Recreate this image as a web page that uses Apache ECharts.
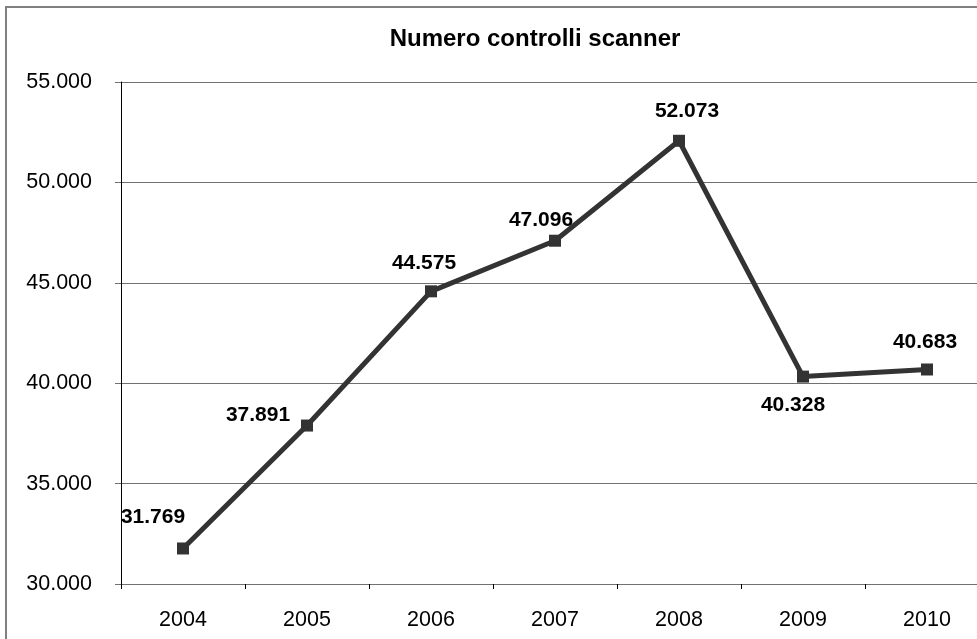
<!DOCTYPE html>
<html>
<head>
<meta charset="utf-8">
<style>
  html, body { margin: 0; padding: 0; background: #fff; overflow: hidden; width: 977px; height: 639px; }
  #chart { width: 1000px; height: 639px; }
</style>
<script src="https://cdn.jsdelivr.net/npm/echarts@6/dist/echarts.min.js"></script>
</head>
<body>
<div id="chart"></div>
<script>
// Annual number of scanner checks
const years = ['2004', '2005', '2006', '2007', '2008', '2009', '2010'];
const checks = [31769, 37891, 44575, 47096, 52073, 40328, 40683];
// Where each value label sits relative to its point (x, y in px)
const labelOffsets = [[-30, -31], [-49, -10], [-7, -28], [-14, -21], [8, -30], [-10, 29], [-2, -27]];

const fmt = v => {
  const s = Math.round(v).toString();
  return s.replace(/\B(?=(\d{3})+(?!\d))/g, '.');
};

const FONT = 'Liberation Sans, Arial, sans-serif';
const chart = echarts.init(document.getElementById('chart'), null, { renderer: 'canvas' });

chart.setOption({
  backgroundColor: '#fff',
  animation: false,
  title: {
    text: 'Numero controlli scanner',
    left: 530,
    top: 22,
    textAlign: 'center',
    textStyle: { fontFamily: FONT, fontSize: 24, fontWeight: 'bold', color: '#000' }
  },
  graphic: [{
    type: 'rect',
    shape: { x: 6, y: 7, width: 1200, height: 1000 },
    style: { fill: 'none', stroke: '#808080', lineWidth: 2 },
    silent: true,
    z: -1
  }],
  grid: { left: 121, top: 82, right: 11, bottom: 55, containLabel: false },
  xAxis: {
    type: 'category',
    data: years,
    boundaryGap: true,
    axisLine: { lineStyle: { color: '#707070', width: 1 } },
    axisTick: { show: true, length: 5, lineStyle: { color: '#000' } },
    axisLabel: { margin: 25, fontFamily: FONT, fontSize: 21.5, color: '#000' },
    splitLine: { show: false }
  },
  yAxis: {
    type: 'value',
    min: 30000,
    max: 55000,
    interval: 5000,
    axisLine: { show: true, lineStyle: { color: '#000', width: 1 } },
    axisTick: { show: true, length: 6, lineStyle: { color: '#707070' } },
    axisLabel: {
      margin: 29,
      formatter: fmt,
      fontFamily: FONT, fontSize: 21.5, color: '#000'
    },
    splitLine: { show: true, lineStyle: { color: '#707070', width: 1 } }
  },
  series: [{
    type: 'line',
    data: checks.map((v, i) => ({
      value: v,
      label: { offset: labelOffsets[i] }
    })),
    symbol: 'rect',
    symbolSize: 12,
    lineStyle: { color: '#333', width: 5 },
    itemStyle: { color: '#333' },
    label: {
      show: true,
      position: 'inside',
      formatter: p => fmt(p.value),
      fontFamily: FONT,
      fontSize: 21,
      fontWeight: 'bold',
      color: '#000'
    },
    z: 3
  }]
});
</script>
</body>
</html>
